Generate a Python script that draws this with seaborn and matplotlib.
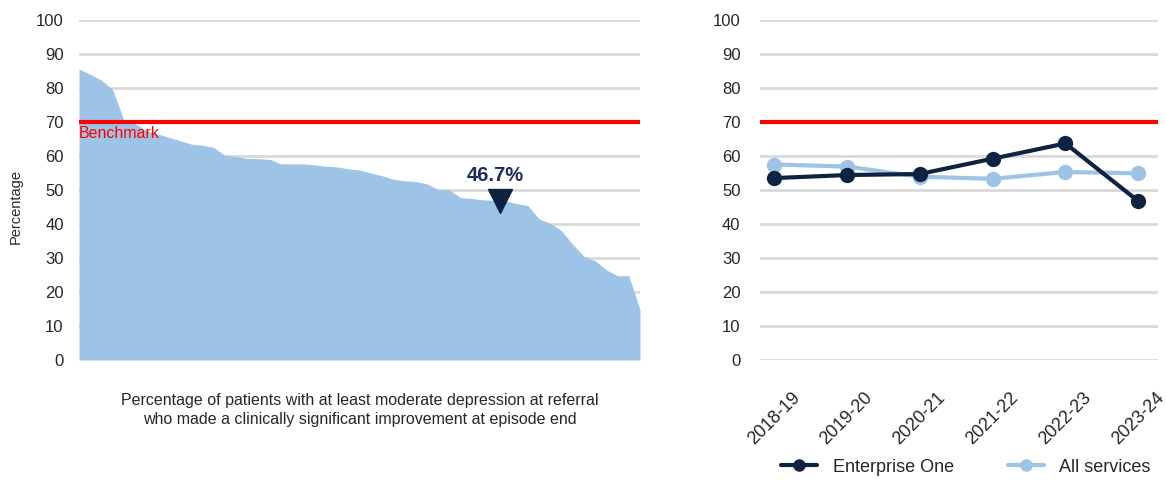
import numpy as np
import pandas as pd
import matplotlib
matplotlib.use("Agg")
import matplotlib.pyplot as plt
from matplotlib.lines import Line2D
import seaborn as sns

# provider values, sorted high to low (left chart)
provider_values = [85.6, 84.0, 82.3, 79.5, 70.5, 69.5, 67.5, 66.5, 65.5, 64.5,
                   63.5, 63.2, 62.5, 60.2, 59.8, 59.3, 59.2, 59.0, 57.7, 57.7,
                   57.7, 57.4, 57.0, 56.8, 56.2, 55.9, 55.0, 54.2, 53.2, 52.7,
                   52.5, 51.8, 50.2, 50.0, 47.8, 47.5, 47.1, 47.0, 46.8, 46.0,
                   45.4, 41.5, 40.2, 38.0, 34.0, 30.5, 29.2, 26.5, 24.8, 24.8,
                   14.8]
service_value = 46.7
service_rank = 37.5
benchmark = 70

years = ["2018-19", "2019-20", "2020-21", "2021-22", "2022-23", "2023-24"]
enterprise_one = [53.5, 54.4, 54.7, 59.2, 63.7, 46.7]
all_services = [57.5, 56.9, 53.9, 53.3, 55.3, 54.9]

navy = "#0e2341"
light_blue = "#9dc3e6"
grid_col = "#d9d9d9"

sns.set_style("white")
plt.rcParams["font.family"] = ["Liberation Sans", "DejaVu Sans"]

fig = plt.figure(figsize=(11.66, 4.8), dpi=100)
ax1 = fig.add_axes([79 / 1166, 120 / 480, 561 / 1166, 340 / 480])
ax2 = fig.add_axes([760 / 1166, 120 / 480, 398 / 1166, 340 / 480])

# left: sorted area chart
xs = np.arange(len(provider_values))
ax1.fill_between(xs, provider_values, 0, color=light_blue, linewidth=0, zorder=2)
ax1.set_xlim(0, len(provider_values) - 1)
ax1.set_ylim(0, 100)
ax1.set_yticks(range(0, 101, 10))
for y in range(0, 101, 10):
    ax1.axhline(y, color=grid_col, linewidth=2, zorder=1)
ax1.axhline(benchmark, color="#ff0000", linewidth=3, zorder=4)
ax1.text(0, benchmark - 1.2, "Benchmark", color="#ff0000", fontsize=11.5,
         va="top", ha="left", zorder=5)
ax1.plot([service_rank], [service_value], marker="v", markersize=17,
         color=navy, linestyle="none", zorder=5)
ax1.text(service_rank - 0.4, service_value + 4.8, f"{service_value}%", color="#1f2a5c",
         fontsize=14.5, fontweight="bold", ha="center", va="bottom", zorder=5)
ax1.set_xticks([])
ax1.set_ylabel("Percentage", fontsize=10.5)
ax1.yaxis.set_label_coords(-0.10, 0.45)
ax1.set_xlabel("Percentage of patients with at least moderate depression at referral\n"
               "who made a clinically significant improvement at episode end",
               fontsize=11.5, labelpad=24, linespacing=1.3)
ax1.tick_params(axis="y", labelsize=12, length=0, pad=11)
sns.despine(ax=ax1, left=True, bottom=True)

# right: trend lines
df = pd.DataFrame({
    "year": years * 2,
    "value": enterprise_one + all_services,
    "series": ["Enterprise One"] * len(years) + ["All services"] * len(years),
})
for y in range(0, 101, 10):
    ax2.axhline(y, color=grid_col, linewidth=2, zorder=1)
ax2.axhline(benchmark, color="#ff0000", linewidth=3, zorder=2)
sns.lineplot(data=df, x="year", y="value", hue="series",
             hue_order=["All services", "Enterprise One"],
             palette={"Enterprise One": navy, "All services": light_blue},
             marker="o", markersize=11, markeredgewidth=0, linewidth=3,
             ax=ax2, zorder=3, legend=False)
ax2.set_xlim(-0.19, 5.27)
ax2.set_ylim(0, 100)
ax2.set_yticks(range(0, 101, 10))
ax2.set_xlabel("")
ax2.set_ylabel("")
ax2.tick_params(axis="y", labelsize=12, length=0, pad=14)
ax2.tick_params(axis="x", labelsize=13, length=0, pad=21)
plt.setp(ax2.get_xticklabels(), rotation=45, ha="center")
sns.despine(ax=ax2, left=True, bottom=True)

handles = [Line2D([], [], color=navy, marker="o", markersize=8, linewidth=3),
           Line2D([], [], color=light_blue, marker="o", markersize=8, linewidth=3)]
fig.legend(handles, ["Enterprise One", "All services"], loc="center",
           bbox_to_anchor=(966 / 1166, 13 / 480), ncol=2, frameon=False,
           fontsize=13, handlelength=2.0, handletextpad=0.85, columnspacing=3.0)

fig.savefig("out.png", dpi=100)
